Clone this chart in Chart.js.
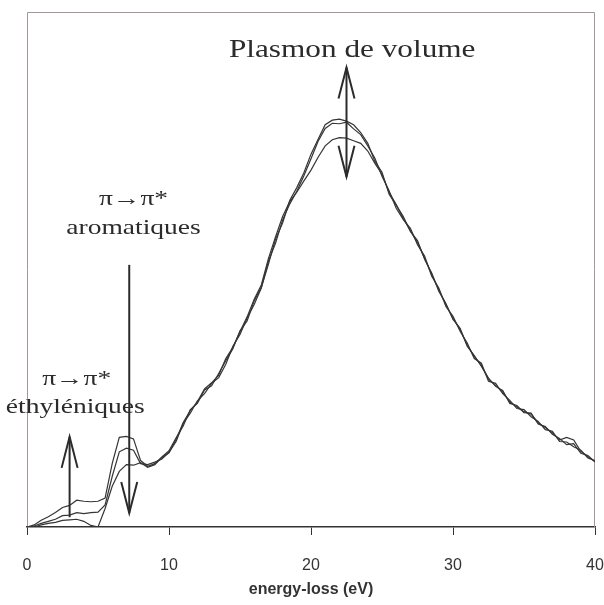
<!DOCTYPE html>
<html>
<head>
<meta charset="utf-8">
<script src="https://cdn.jsdelivr.net/npm/chart.js@4/dist/chart.umd.min.js"></script>
<style>
  body { margin: 0; background: #fff; }
  #wrap { width: 604px; height: 605px; }
</style>
</head>
<body>
<div id="wrap"><canvas id="eels" width="604" height="605"></canvas></div>
<script>
// energy grid (eV)
const energy = [
  0, 0.5, 1, 1.5, 2, 2.5, 3, 3.5, 4, 4.5, 5, 5.5, 6, 6.5, 7, 7.5, 8, 8.5, 9, 9.5,
  10, 10.5, 11, 11.5, 12, 12.5, 13, 13.5, 14, 14.5, 15, 15.5, 16, 16.5, 17, 17.5, 18, 18.5, 19, 19.5,
  20, 20.5, 21, 21.5, 22, 22.5, 23, 23.5, 24, 24.5, 25, 25.5, 26, 26.5, 27, 27.5, 28, 28.5, 29, 29.5,
  30, 30.5, 31, 31.5, 32, 32.5, 33, 33.5, 34, 34.5, 35, 35.5, 36, 36.5, 37, 37.5, 38, 38.5, 39, 39.5, 40
];

// three spectra, intensity in arbitrary units (0..100 = frame height)
const spectrumA = [
  0, 0.4, 1.3, 2.0, 2.8, 3.8, 4.2, 5.2, 5.0, 4.9, 5.0, 5.6, 12.3, 17.4, 17.6, 17.1, 12.9, 11.8, 12.3, 13.6,
  14.8, 17.3, 19.6, 22.8, 24.0, 26.6, 27.4, 29.8, 32.3, 34.6, 38.1, 40.0, 43.9, 46.5, 51.0, 55.9, 59.0, 63.4, 65.9, 68.8,
  72.4, 75.3, 78.1, 79.0, 79.2, 78.8, 78.1, 76.6, 74.5, 71.0, 68.9, 64.6, 62.5, 60.3, 57.4, 55.6, 52.0, 49.3, 45.8, 43.4,
  40.3, 38.6, 35.1, 33.3, 31.2, 28.9, 27.3, 26.5, 24.0, 23.6, 22.2, 22.1, 20.0, 19.5, 18.0, 17.2, 16.0, 16.2, 14.3, 13.9, 12.6
];
const spectrumB = [
  0, 0.2, 0.7, 1.1, 1.5, 2.2, 2.3, 2.8, 2.6, 2.8, 2.9, 4.3, 9.8, 14.6, 15.3, 14.9, 12.3, 12.1, 12.6, 13.2,
  14.5, 16.6, 20.1, 22.1, 24.5, 25.9, 27.9, 29.0, 31.6, 35.1, 37.4, 40.6, 43.2, 46.4, 51.6, 55.1, 59.6, 62.7, 65.2, 68.2,
  71.5, 74.9, 77.4, 78.4, 78.3, 78.6, 77.3, 76.2, 74.0, 71.6, 68.1, 65.3, 61.9, 59.7, 58.0, 54.8, 52.6, 48.7, 46.4, 42.8,
  40.9, 38.0, 35.7, 32.7, 31.8, 28.3, 27.9, 25.9, 24.6, 23.0, 22.8, 21.4, 20.5, 18.9, 18.6, 16.6, 16.5, 15.6, 14.9, 13.4, 12.9
];
const spectrumC = [
  0, 0, 0.4, 0.7, 0.9, 1.3, 1.4, 1.5, 1.1, 0.3, 0, 3.6, 7.9, 10.8, 12.1, 12.0, 12.5, 11.6, 12.1, 13.5,
  14.4, 17.0, 20.3, 22.6, 24.3, 26.8, 28.0, 29.5, 32.7, 34.9, 37.9, 40.8, 44.2, 47.0, 52.1, 56.3, 60.3, 63.2, 65.0, 67.2,
  69.3, 71.8, 74.0, 75.2, 75.6, 75.5, 75.0, 74.5, 73.0, 70.6, 68.5, 65.0, 62.6, 59.9, 57.5, 55.2, 52.2, 49.1, 46.0, 43.2,
  40.5, 38.4, 35.3, 33.1, 31.4, 28.7, 27.5, 26.2, 24.3, 23.3, 22.4, 21.9, 20.2, 19.3, 18.3, 16.9, 17.4, 16.9, 14.7, 13.7, 12.7
];

const xTicks = [0, 10, 20, 30, 40];

// annotations (data coordinates)
const labelText = ['Plasmon de volume', 'π→π*', 'aromatiques', 'π→π*', 'éthyléniques'];
const labelX = [22.9, 7.5, 7.5, 3.5, 3.4];
const labelY = [91.3, 62.6, 56.8, 27.6, 22.2];
const labelSize = [25, 22, 22, 22, 22];

// arrows: x, y from, y to, heads at [start, end]
const arrowX = [22.5, 7.2, 3.0];
const arrowFrom = [89.2, 50.9, 1.9];
const arrowTo = [68.0, 2.7, 17.5];
const arrowHeads = [[true, true], [false, true], [false, true]];

const pts = (ys) => energy.map((e, i) => ({ x: e, y: ys[i] }));

const frame = {
  id: 'frame',
  beforeDatasetsDraw(chart) {
    const { ctx, chartArea: a } = chart;
    ctx.save();
    ctx.strokeStyle = '#a39797';
    ctx.lineWidth = 1;
    ctx.beginPath();
    ctx.moveTo(a.left + 0.5, a.bottom);
    ctx.lineTo(a.left + 0.5, a.top + 0.5);
    ctx.lineTo(a.right - 0.5, a.top + 0.5);
    ctx.lineTo(a.right - 0.5, a.bottom);
    ctx.stroke();
    ctx.restore();
  }
};

const notes = {
  id: 'notes',
  afterDatasetsDraw(chart) {
    const { ctx } = chart;
    const xs = chart.scales.x, ys = chart.scales.y;
    ctx.save();
    ctx.fillStyle = '#2b2b2b';
    ctx.textAlign = 'center';
    ctx.textBaseline = 'alphabetic';
    labelText.forEach((t, i) => {
      ctx.save();
      ctx.translate(xs.getPixelForValue(labelX[i]), ys.getPixelForValue(labelY[i]));
      ctx.scale(1.25, 1);
      ctx.font = labelSize[i] + 'px "Liberation Serif", "Times New Roman", serif';
      ctx.fillText(t, 0, 0);
      ctx.restore();
    });

    ctx.strokeStyle = '#2b2b2b';
    ctx.lineWidth = 2;
    const head = (x, y, dir) => {
      ctx.beginPath();
      ctx.moveTo(x - 8, y + dir * 31);
      ctx.lineTo(x, y);
      ctx.lineTo(x + 8, y + dir * 31);
      ctx.stroke();
    };
    arrowX.forEach((ax, i) => {
      const x = xs.getPixelForValue(ax);
      const y0 = ys.getPixelForValue(arrowFrom[i]);
      const y1 = ys.getPixelForValue(arrowTo[i]);
      ctx.beginPath();
      ctx.moveTo(x, y0);
      ctx.lineTo(x, y1);
      ctx.stroke();
      const d = y1 > y0 ? -1 : 1;
      if (arrowHeads[i][1]) head(x, y1, d);
      if (arrowHeads[i][0]) head(x, y0, -d);
    });
    ctx.restore();
  }
};

const line = (ys) => ({
  data: pts(ys),
  borderColor: '#353535',
  borderWidth: 1.2,
  pointRadius: 0,
  tension: 0,
  fill: false
});

new Chart(document.getElementById('eels'), {
  type: 'line',
  data: { datasets: [line(spectrumA), line(spectrumB), line(spectrumC)] },
  options: {
    responsive: false,
    animation: false,
    layout: { padding: { left: 27, right: 9, top: 12, bottom: 6 } },
    plugins: { legend: { display: false }, tooltip: { enabled: false } },
    scales: {
      x: {
        type: 'linear',
        min: 0,
        max: 40,
        afterBuildTicks: (s) => { s.ticks = xTicks.map(v => ({ value: v })); },
        afterFit: (s) => { s.height = 72; s.paddingLeft = 0; s.paddingRight = 0; },
        ticks: {
          color: '#333',
          padding: 21,
          font: { family: '"Liberation Sans", Arial, sans-serif', size: 16 }
        },
        grid: { drawOnChartArea: false, drawTicks: true, tickLength: 8, color: '#333', lineWidth: 1 },
        border: { display: true, color: '#333', width: 1.5 },
        title: {
          display: true,
          text: 'energy-loss (eV)',
          color: '#333',
          padding: { top: 5, bottom: 0 },
          font: { family: '"Liberation Sans", Arial, sans-serif', size: 16, weight: 'bold' }
        }
      },
      y: { display: false, min: 0, max: 100 }
    }
  },
  plugins: [frame, notes]
});
</script>
</body>
</html>
